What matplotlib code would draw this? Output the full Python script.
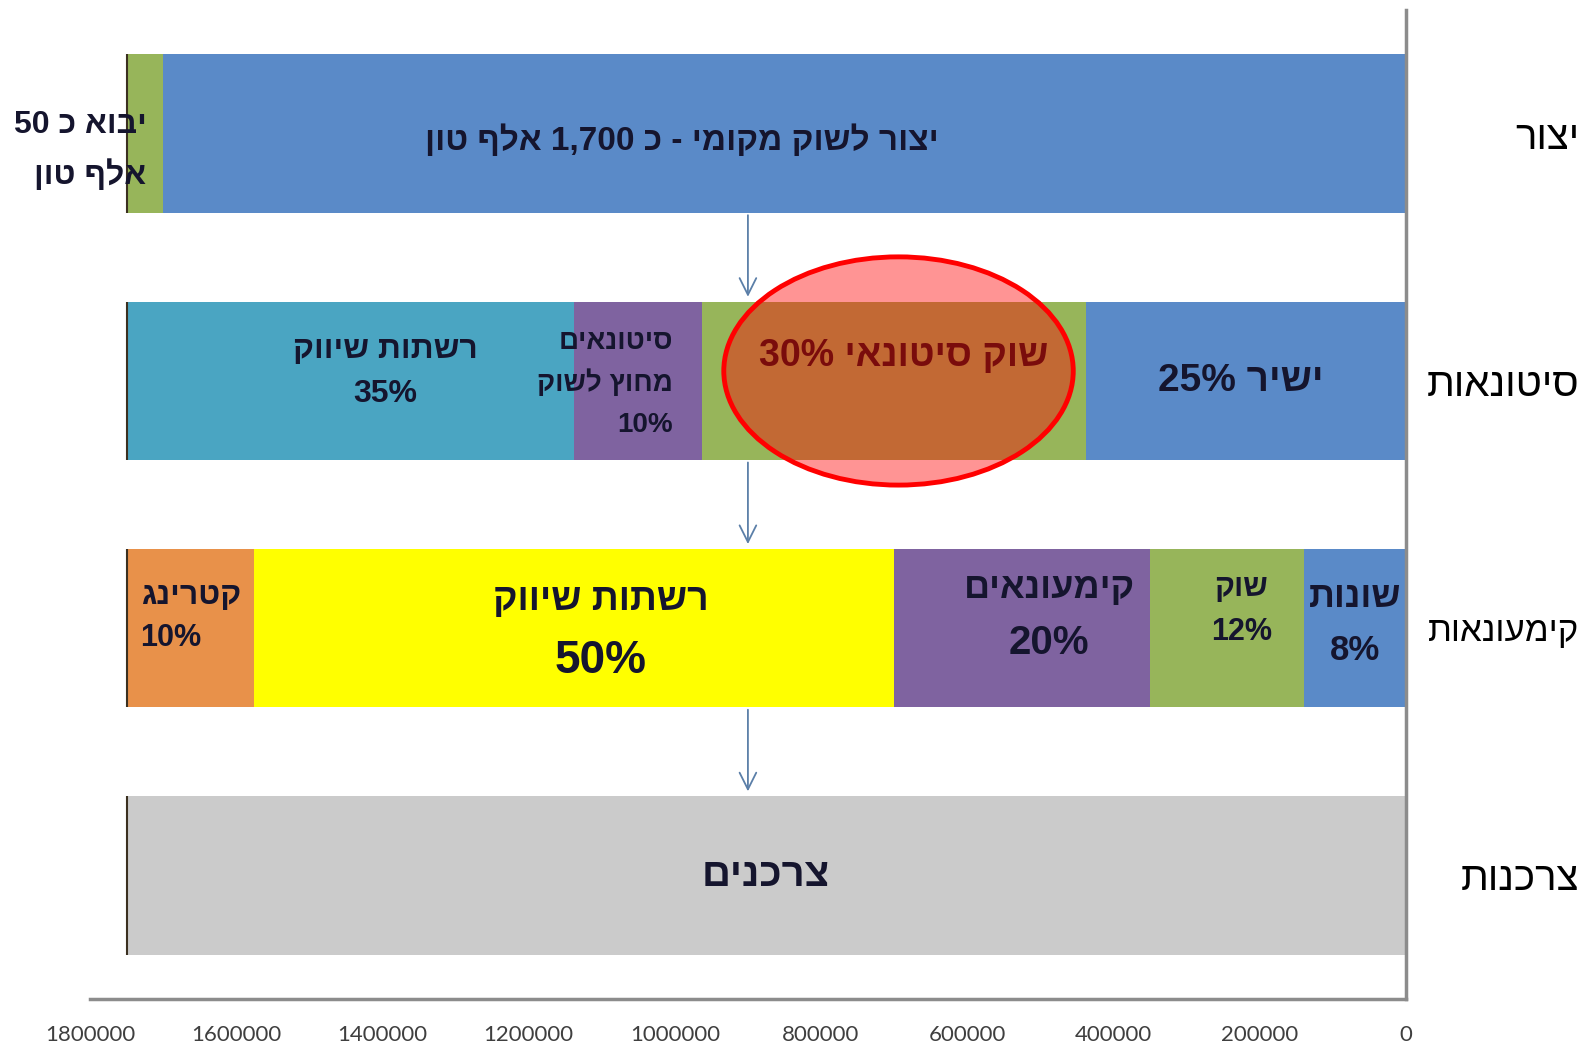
import numpy as np
import matplotlib
matplotlib.use("Agg")
import matplotlib.pyplot as plt
from matplotlib.patches import Ellipse

# stages (top to bottom) and stacked segment values, tons; stacked from 0 (right side)
stages = ["יצור", "סיטונאות", "קימעונאות", "צרכנות"]
total = 1750000
production = [1700000, 50000]
wholesale_pct = [25, 30, 10, 35]
retail_pct = [8, 12, 20, 50, 10]
consumers = [1750000]

production_labels = ["יצור לשוק מקומי - כ 1,700 אלף טון", "יבוא כ 50\nאלף טון"]
wholesale_labels = ["ישיר 25%", "שוק סיטונאי 30%", "סיטונאים\nמחוץ לשוק\n10%", "רשתות שיווק\n35%"]
retail_labels = ["שונות\n8%", "שוק\n12%", "קימעונאים\n20%", "רשתות שיווק\n50%", "קטרינג\n10%"]
consumer_labels = ["צרכנים"]

BLUE, GREEN, PURPLE, TEAL = "#5A8AC8", "#97B55A", "#7F63A0", "#4AA5C2"
row_colors = [
    [BLUE, GREEN],
    [BLUE, GREEN, PURPLE, TEAL],
    [BLUE, GREEN, PURPLE, "#FFFF00", "#E8914A"],
    ["#CBCBCB"],
]

wholesale = [p / 100 * total for p in wholesale_pct]
retail = [p / 100 * total for p in retail_pct]
rows = [production, wholesale, retail, consumers]
row_labels = [production_labels, wholesale_labels, retail_labels, consumer_labels]


def rtl(s):
    # matplotlib has no bidi: flip word order and hebrew letters for display
    toks = s.split(" ")[::-1]
    toks = [t[::-1] if any("\u0590" <= ch <= "\u05ff" for ch in t) else t for t in toks]
    return " ".join(toks)


BAR_FONT = ["Liberation Sans", "DejaVu Sans"]
TXT = "#15152e"

fig = plt.figure(figsize=(15.92, 10.48), dpi=100)
ax = fig.add_axes([0.0565, 0.0467, 0.8266, 0.9438])

bar_h = 0.64
for i, (vals, cols) in enumerate(zip(rows, row_colors)):
    left = 0
    for v, c in zip(vals, cols):
        ax.barh(i, v, left=left, height=bar_h, color=c, edgecolor="none", zorder=2)
        left += v
    ax.vlines(sum(vals), i - bar_h / 2, i + bar_h / 2, color="#3b3020", lw=1.5, zorder=3)

# label style per segment: (dx in data, dy in rows, sizes per line, line pitch, color, ha)
styles = [
    [(140000, 0.03, [24], 0, TXT, "center"), (None, 0.066, [23, 23], 0.2, TXT, "right")],
    [(7000, 0.0, [28], 0, TXT, "center"), (-13000, -0.1, [27], 0, "#7a0c0c", "center"),
     (None, 0.01, [20, 20, 20], 0.167, TXT, "right"),
     (-48000, -0.035, [23, 23], 0.177, TXT, "center")],
    [(0, -0.016, [26, 25], 0.214, TXT, "center"), (-20000, -0.074, [22, 22], 0.18, TXT, "center"),
     (-37000, -0.05, [26, 29], 0.218, TXT, "center"), (-36000, 0.01, [27, 33], 0.247, TXT, "center"),
     (None, -0.045, [23, 22], 0.173, TXT, "left")],
    [(0, 0.0, [29], 0, TXT, "center")],
]

for i, (vals, labels, st) in enumerate(zip(rows, row_labels, styles)):
    ends = np.cumsum(vals)
    starts = ends - np.array(vals)
    for s, e, lab, (dx, dy, sizes, pitch, col, ha) in zip(starts, ends, labels, st):
        if ha == "center":
            x = (s + e) / 2 + dx
        elif ha == "right":
            # right-aligned text ends inside the segment, near its low-value edge
            x = s + (0.23 if i == 1 else 0.45) * (e - s)
        else:
            x = e - 0.11 * (e - s)
        lines = lab.split("\n")
        n = len(lines)
        for k, (line, size) in enumerate(zip(lines, sizes)):
            y = i + dy + (k - (n - 1) / 2) * pitch
            ax.text(x, y, rtl(line), ha=ha, va="center", fontsize=size,
                    fontweight="bold", color=col, family=BAR_FONT, zorder=5)

# flow arrows between stages
for i in range(3):
    ax.annotate("", xy=(900000, i + 0.66), xytext=(900000, i + bar_h / 2 + 0.01),
                arrowprops=dict(arrowstyle="->,head_length=0.6,head_width=0.3",
                                color="#5B7FA8", lw=1.3, mutation_scale=20,
                                shrinkA=0, shrinkB=0), zorder=3)

# highlight of the wholesale market
ax.add_patch(Ellipse((694000, 0.96), width=478000, height=0.923,
                     facecolor=(1, 0, 0, 0.42), edgecolor="red", lw=3.5, zorder=4))

ax.set_xlim(1800000, 0)
ax.set_ylim(3.5, -0.5)

xt = np.arange(0, 1800001, 200000)
ax.set_xticks(xt)
ax.set_xticklabels([f"{int(v)}" for v in xt])
ax.tick_params(axis="x", length=0, pad=19, labelsize=16, labelcolor="#3f3f3f")
for t in ax.get_xticklabels():
    t.set_family(["Lato", "DejaVu Sans"])

ax.yaxis.tick_right()
ax.set_yticks(range(len(stages)))
ax.set_yticklabels([rtl(s) for s in stages], ha="right", fontsize=29,
                   family=["Liberation Sans", "DejaVu Sans"], color="black")
ax.get_yticklabels()[2].set_fontsize(25)
ax.tick_params(axis="y", length=0, pad=125)

for side in ["left", "top"]:
    ax.spines[side].set_visible(False)
for side in ["right", "bottom"]:
    ax.spines[side].set_color("#8C8C8C")
    ax.spines[side].set_linewidth(2.5)

fig.savefig("out.png", dpi=100)
